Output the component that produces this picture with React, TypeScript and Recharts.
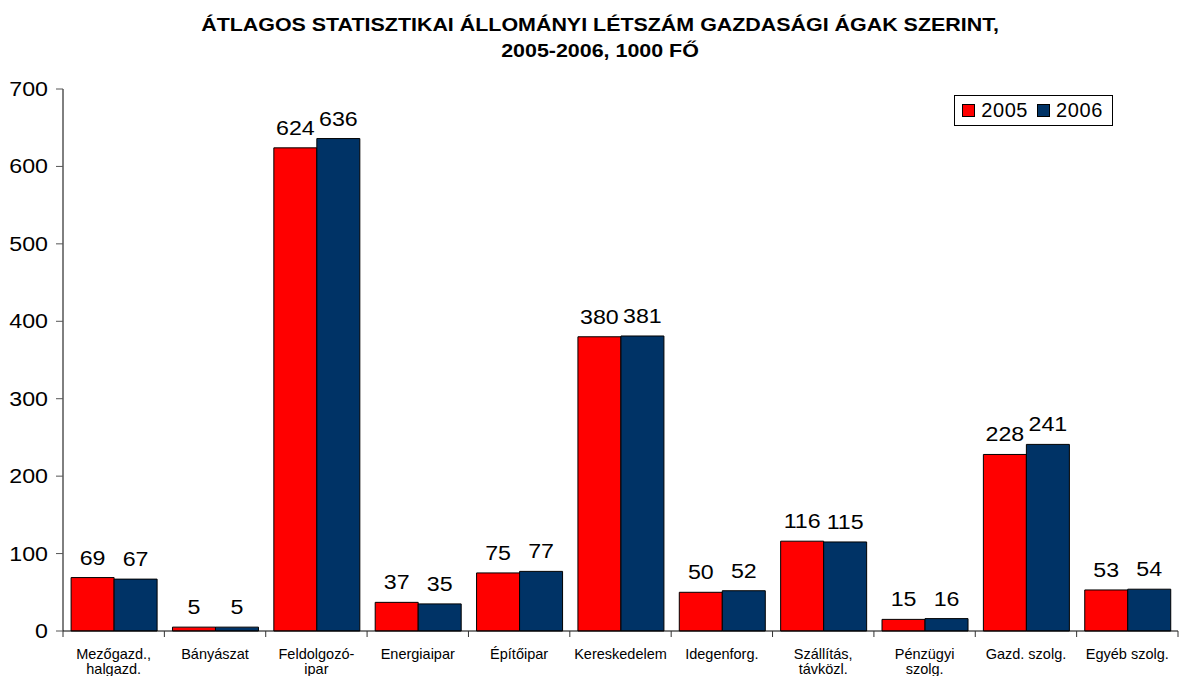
import { Bar, BarChart, LabelList, Legend, XAxis, YAxis } from "recharts";

const categories = [
  "Mezőgazd.,\nhalgazd.",
  "Bányászat",
  "Feldolgozó-\nipar",
  "Energiaipar",
  "Építőipar",
  "Kereskedelem",
  "Idegenforg.",
  "Szállítás,\ntávközl.",
  "Pénzügyi\nszolg.",
  "Gazd. szolg.",
  "Egyéb szolg.",
];
const values2005 = [69, 5, 624, 37, 75, 380, 50, 116, 15, 228, 53];
const values2006 = [67, 5, 636, 35, 77, 381, 52, 115, 16, 241, 54];
const yTicks = [0, 100, 200, 300, 400, 500, 600, 700];

const W = 1180;
const H = 676;
const LEFT = 63;
const RIGHT = 2;
const step = (W - LEFT - RIGHT) / categories.length;
// the original chart's text is a bit wider than plain Arial
const STRETCH = 1.19;

const font = "'Liberation Sans', Arial, sans-serif";

const dataChart = categories.map((name, i) => ({
  name,
  y2005: values2005[i],
  y2006: values2006[i],
}));

function CatTick(props: any) {
  const { x, y, payload, index } = props;
  const lines = String(payload.value).split("\n");
  return (
    <g>
      <line x1={x - step / 2} x2={x - step / 2} y1={y} y2={y + 6} stroke="#333" />
      {index === categories.length - 1 && (
        <line x1={x + step / 2} x2={x + step / 2} y1={y} y2={y + 6} stroke="#333" />
      )}
      <text x={x} y={y + 28} textAnchor="middle" fontSize={14.5} fontFamily={font} fill="#000">
        {lines.map((l, i) => (
          <tspan key={i} x={x} dy={i === 0 ? 0 : 15}>
            {l}
          </tspan>
        ))}
      </text>
    </g>
  );
}

function ValueTick(props: any) {
  const { x, y, payload } = props;
  return (
    <text
      transform={`translate(${x},${y}) scale(${STRETCH},1)`}
      textAnchor="end"
      dy="0.36em"
      fontSize={19.5}
      fontFamily={font}
      fill="#000"
    >
      {payload.value}
    </text>
  );
}

function BarLabel(props: any) {
  const { x, y, width, value } = props;
  return (
    <text
      transform={`translate(${x + width / 2},${y - 13}) scale(${STRETCH},1)`}
      textAnchor="middle"
      fontSize={19.5}
      fontFamily={font}
      fill="#000"
    >
      {value}
    </text>
  );
}

function LegendBox() {
  const items = [
    { label: "2005", color: "#ff0000" },
    { label: "2006", color: "#003366" },
  ];
  return (
    <div
      style={{
        border: "1px solid #000",
        background: "#fff",
        display: "flex",
        alignItems: "center",
        padding: "3px 9px 3px 7px",
        fontFamily: font,
        fontSize: 20,
        lineHeight: "23px",
        letterSpacing: 0.6,
        gap: 9,
      }}
    >
      {items.map((it) => (
        <span key={it.label} style={{ display: "flex", alignItems: "center", gap: 6 }}>
          <span
            style={{
              width: 11,
              height: 11,
              background: it.color,
              border: "1px solid #000",
              display: "inline-block",
            }}
          />
          {it.label}
        </span>
      ))}
    </div>
  );
}

export default function App() {
  return (
    <div style={{ position: "absolute", left: 0, top: 0, width: W, height: H, background: "#fff" }}>
      <div
        style={{
          position: "absolute",
          left: 10,
          top: 12,
          width: W,
          textAlign: "center",
          fontFamily: font,
          fontWeight: "bold",
          fontSize: 18,
          lineHeight: "26px",
          transform: `scaleX(${STRETCH})`,
          transformOrigin: "590px 0",
        }}
      >
        ÁTLAGOS STATISZTIKAI ÁLLOMÁNYI LÉTSZÁM GAZDASÁGI ÁGAK SZERINT,
        <br />
        2005-2006, 1000 FŐ
      </div>
      <BarChart
        width={W}
        height={H}
        data={dataChart}
        margin={{ top: 89, right: RIGHT, bottom: 0, left: 0 }}
        barCategoryGap="8%"
        barGap={0}
      >
        <XAxis
          dataKey="name"
          height={45}
          axisLine={{ stroke: "#000" }}
          tickLine={false}
          tickSize={0}
          tickMargin={0}
          tick={<CatTick />}
          interval={0}
        />
        <YAxis
          width={LEFT}
          domain={[0, 700]}
          ticks={yTicks}
          axisLine={{ stroke: "#000" }}
          tickLine={{ stroke: "#555" }}
          tickSize={7}
          tickMargin={8}
          tick={<ValueTick />}
        />
        <Legend
          layout="horizontal"
          verticalAlign="middle"
          align="center"
          content={<LegendBox />}
          wrapperStyle={{ top: 95, right: 67, left: "auto", width: "auto" }}
        />
        <Bar dataKey="y2005" fill="#ff0000" stroke="#000" strokeWidth={1} isAnimationActive={false}>
          <LabelList dataKey="y2005" content={<BarLabel />} />
        </Bar>
        <Bar dataKey="y2006" fill="#003366" stroke="#000" strokeWidth={1} isAnimationActive={false}>
          <LabelList dataKey="y2006" content={<BarLabel />} />
        </Bar>
      </BarChart>
    </div>
  );
}
